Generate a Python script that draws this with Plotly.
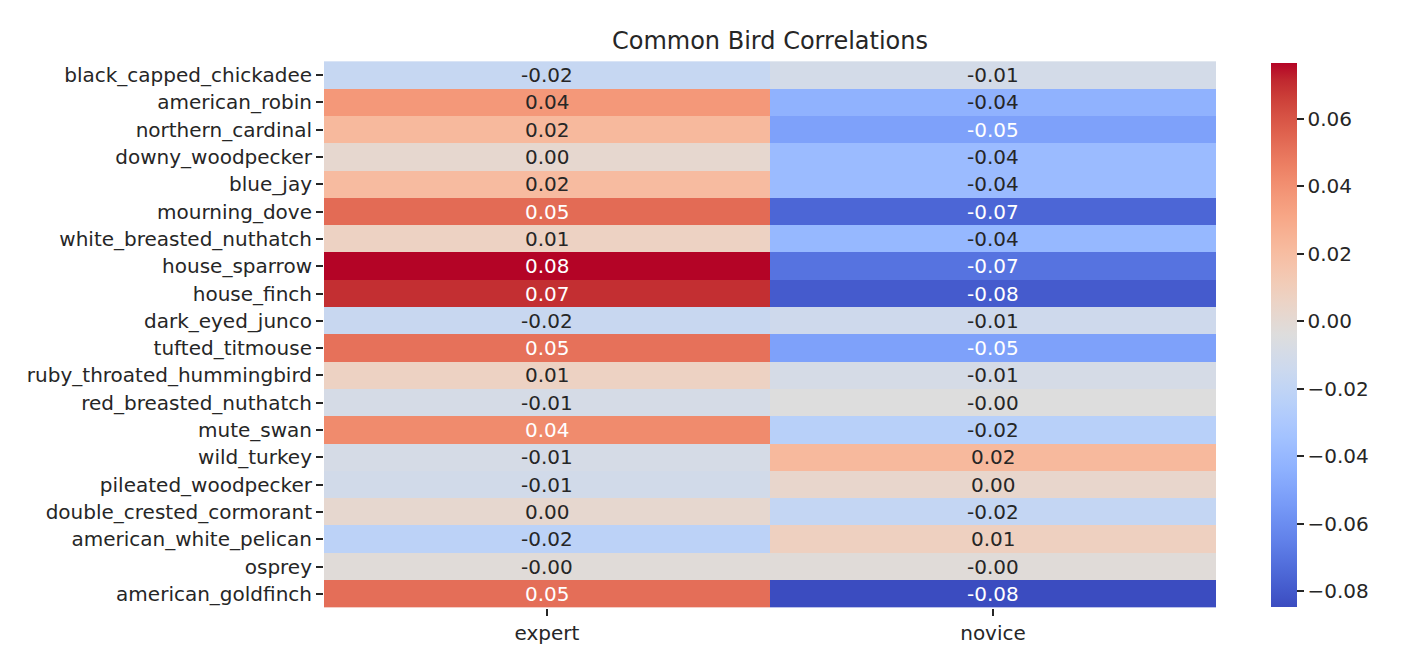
import plotly.graph_objects as go

# Bird names (rows) and the two observer groups (columns)
birds = [
    "black_capped_chickadee", "american_robin", "northern_cardinal",
    "downy_woodpecker", "blue_jay", "mourning_dove", "white_breasted_nuthatch",
    "house_sparrow", "house_finch", "dark_eyed_junco", "tufted_titmouse",
    "ruby_throated_hummingbird", "red_breasted_nuthatch", "mute_swan",
    "wild_turkey", "pileated_woodpecker", "double_crested_cormorant",
    "american_white_pelican", "osprey", "american_goldfinch",
]
groups = ["expert", "novice"]

# Correlation values
expert = [
    -0.017, 0.037, 0.022, 0.002, 0.021, 0.053, 0.007, 0.0766, 0.070, -0.016,
    0.051, 0.007, -0.009, 0.042, -0.009, -0.011, 0.002, -0.022, -0.002, 0.052,
]
novice = [
    -0.010, -0.043, -0.051, -0.038, -0.038, -0.075, -0.040, -0.070, -0.079, -0.013,
    -0.051, -0.009, -0.004, -0.024, 0.022, 0.003, -0.018, 0.008, -0.002, -0.0845,
]

cbar_ticks = [-0.08, -0.06, -0.04, -0.02, 0.00, 0.02, 0.04, 0.06]
cbar_labels = ["\u22120.08", "\u22120.06", "\u22120.04", "\u22120.02",
               "0.00", "0.02", "0.04", "0.06"]

# matplotlib "coolwarm" sampled at 33 stops
coolwarm_rgb = [
    (59, 76, 192), (68, 90, 204), (77, 104, 215), (87, 117, 225), (98, 130, 234),
    (108, 142, 241), (119, 154, 247), (130, 165, 251), (141, 176, 254),
    (152, 185, 255), (163, 194, 255), (174, 201, 253), (184, 208, 249),
    (194, 213, 244), (204, 217, 238), (213, 219, 230), (221, 221, 221),
    (229, 216, 209), (236, 211, 197), (241, 204, 184), (245, 196, 172),
    (247, 187, 159), (247, 177, 147), (247, 166, 134), (244, 154, 123),
    (241, 141, 111), (236, 127, 99), (229, 112, 89), (222, 96, 77),
    (213, 80, 67), (203, 62, 56), (192, 40, 47), (180, 4, 38),
]
n_stops = len(coolwarm_rgb)
colorscale = [[i / (n_stops - 1), "rgb(%d,%d,%d)" % c] for i, c in enumerate(coolwarm_rgb)]

z = [[e, n] for e, n in zip(expert, novice)]
zmin = min(expert + novice)
zmax = max(expert + novice)


def cell_rgb(v):
    t = (v - zmin) / (zmax - zmin) * (n_stops - 1)
    i = min(int(t), n_stops - 2)
    f = t - i
    a, b = coolwarm_rgb[i], coolwarm_rgb[i + 1]
    return [a[k] + (b[k] - a[k]) * f for k in range(3)]


def text_color(v):
    # same rule seaborn uses for annotation colour
    lin = []
    for c in cell_rgb(v):
        c = c / 255
        lin.append(c / 12.92 if c <= 0.03928 else ((c + 0.055) / 1.055) ** 2.4)
    lum = 0.2126 * lin[0] + 0.7152 * lin[1] + 0.0722 * lin[2]
    return "#262626" if lum > 0.408 else "white"


font = "DejaVu Sans"
label_size = 20

fig = go.Figure(
    go.Heatmap(
        z=z,
        x=groups,
        y=birds,
        zmin=zmin,
        zmax=zmax,
        colorscale=colorscale,
        xgap=0,
        ygap=0,
        colorbar=dict(
            x=1.0617,
            xanchor="left",
            xpad=0,
            ypad=0,
            y=0.5,
            len=0.994,
            thickness=26,
            outlinewidth=0,
            ticks="outside",
            ticklen=7,
            tickwidth=1.5,
            tickcolor="#262626",
            tickvals=cbar_ticks,
            ticktext=cbar_labels,
            tickfont=dict(family=font, size=label_size, color="#262626"),
        ),
        hoverinfo="skip",
    )
)

# cell annotations
for bird, row in zip(birds, z):
    for grp, v in zip(groups, row):
        fig.add_annotation(
            x=grp, y=bird, text=f"{v:.2f}", showarrow=False,
            font=dict(family=font, size=label_size, color=text_color(v)),
        )

# the page body adds an 8px offset, so margins are shifted to compensate
fig.update_layout(
    width=1412,
    height=668,
    margin=dict(l=316, r=204, t=53, b=68),
    paper_bgcolor="white",
    plot_bgcolor="white",
    font=dict(family=font, size=label_size, color="#262626"),
    title=dict(
        text="Common Bird Correlations",
        x=762 / 1412,
        xref="container",
        xanchor="center",
        y=1 - 33 / 668,
        yref="container",
        yanchor="middle",
        font=dict(family=font, size=24, color="#262626"),
    ),
)
fig.update_xaxes(
    showgrid=False, zeroline=False, showline=False,
    ticks="outside", ticklen=7, tickwidth=1.5, tickcolor="#262626",
    tickfont=dict(family=font, size=label_size, color="#262626"),
)
fig.update_yaxes(
    autorange="reversed", showgrid=False, zeroline=False, showline=False,
    ticks="outside", ticklen=7, tickwidth=1.5, tickcolor="#262626",
    tickfont=dict(family=font, size=label_size, color="#262626"),
)

fig.write_html("out.html")
